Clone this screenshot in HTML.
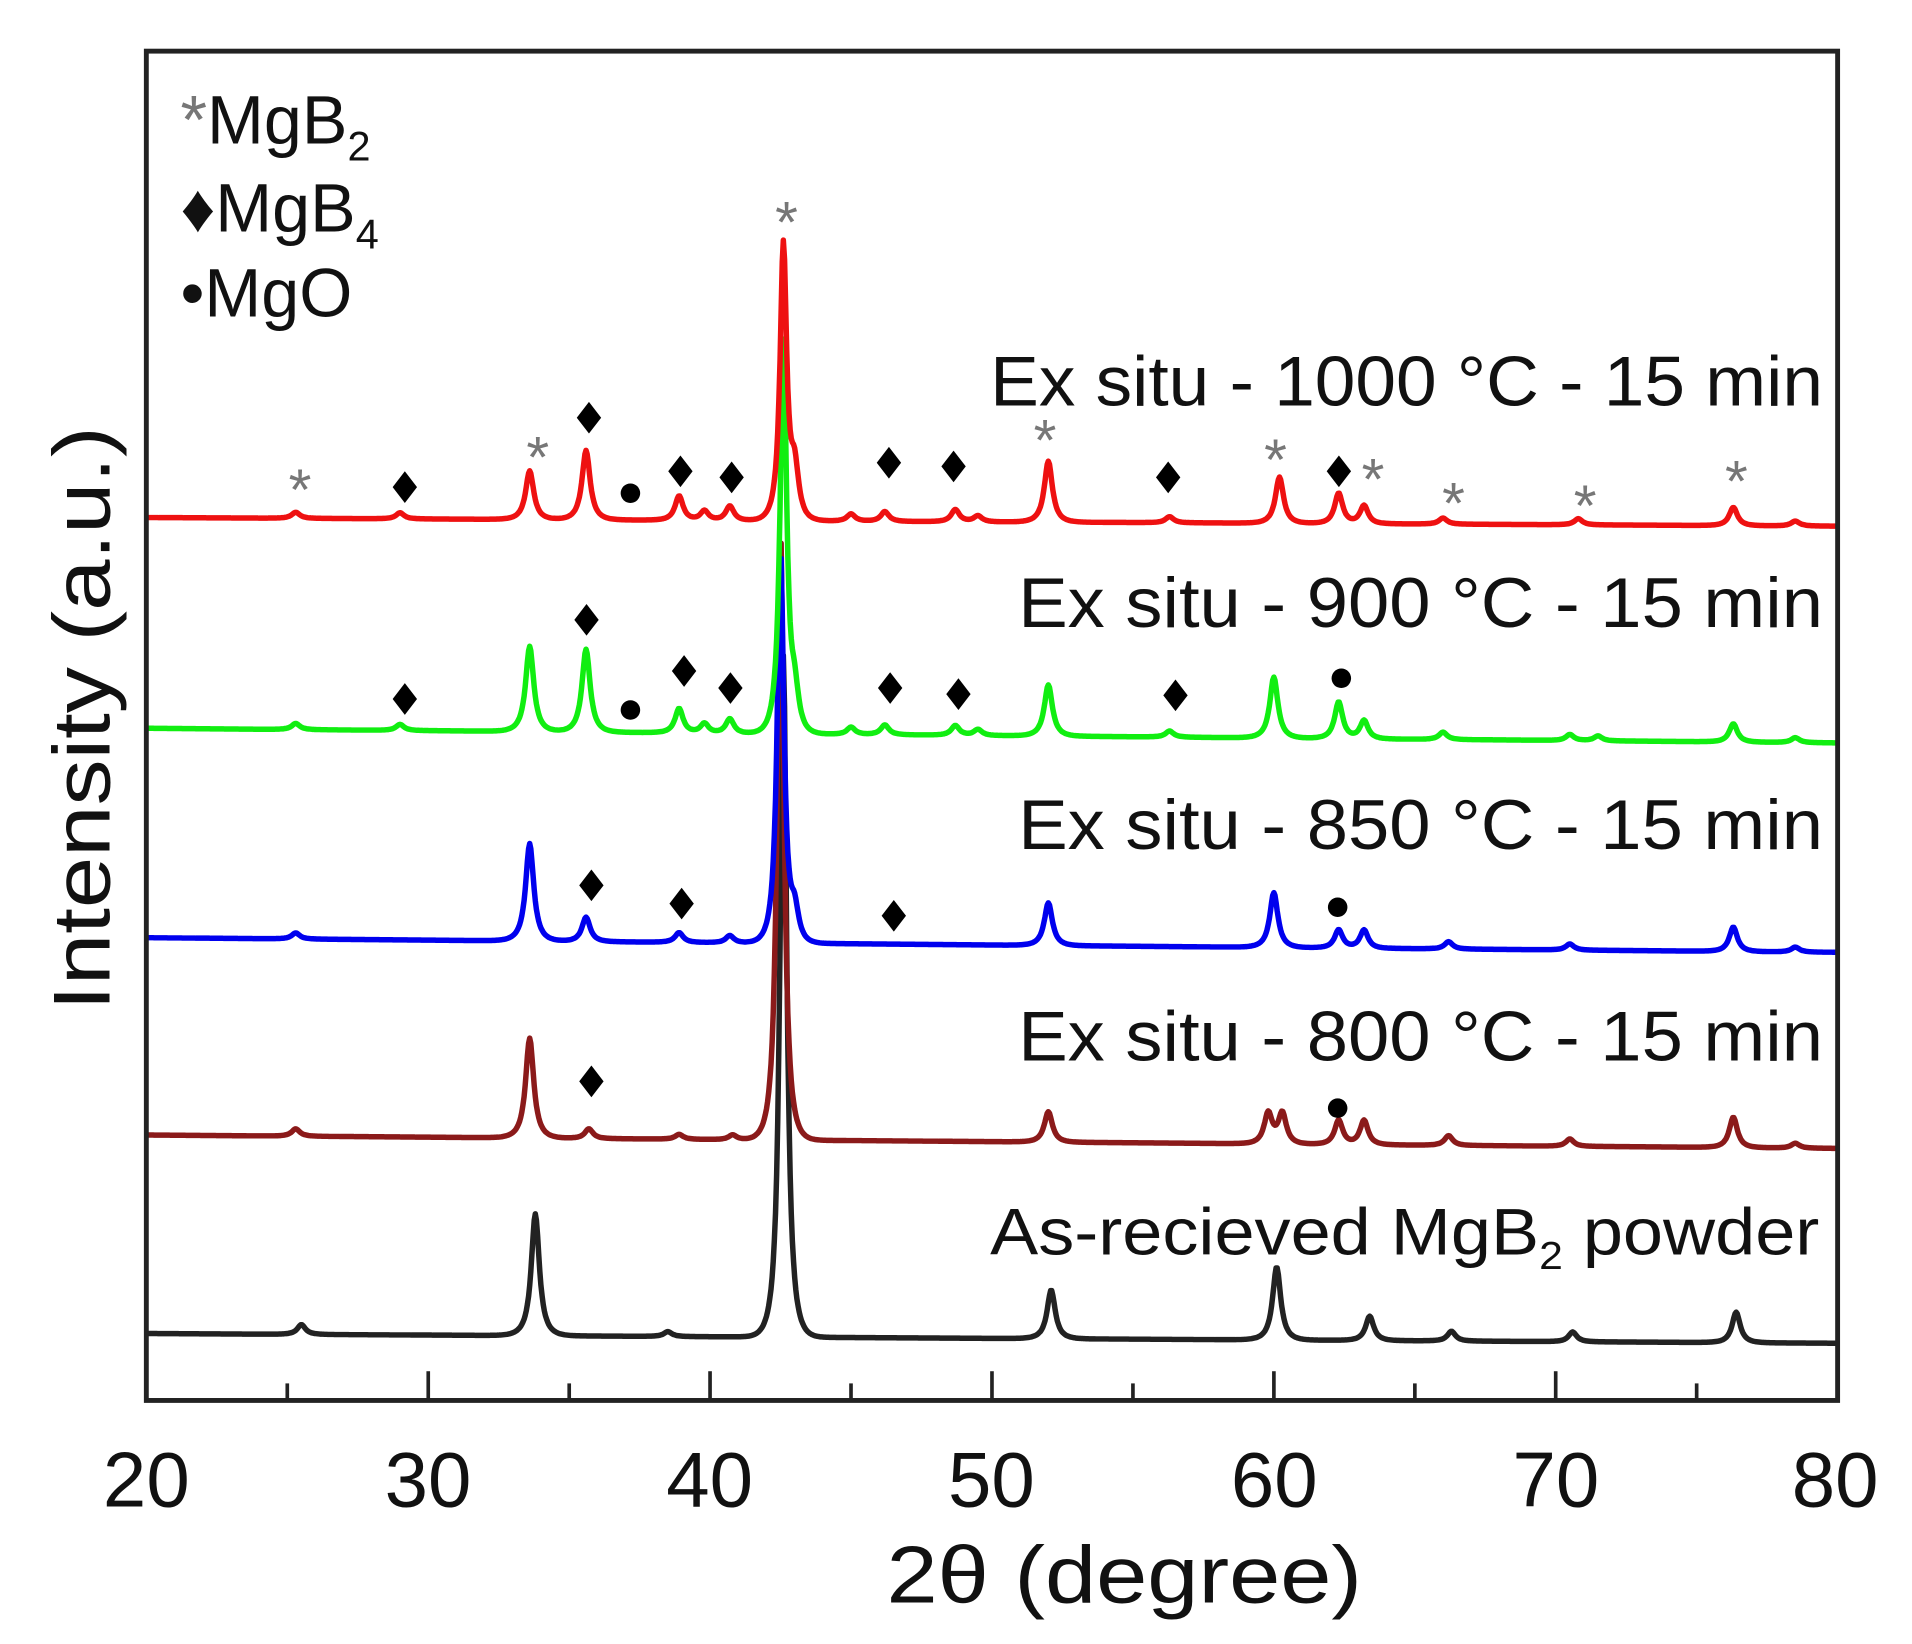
<!DOCTYPE html>
<html><head><meta charset="utf-8"><style>
html,body{margin:0;padding:0;background:#fff;}
svg{display:block;}
text{font-family:"Liberation Sans",sans-serif;}
</style></head><body>
<svg id="s" width="1912" height="1644" viewBox="0 0 1568 1350" preserveAspectRatio="none" xmlns="http://www.w3.org/2000/svg">
<rect width="1568" height="1350" fill="#fff"/>
<g id="curves"></g>
<rect x="120" y="42" width="1387" height="1108" fill="none" stroke="#222" stroke-width="4"/>
<g stroke="#222" stroke-width="3">
<line x1="235.6" y1="1150" x2="235.6" y2="1136"/><line x1="351.2" y1="1150" x2="351.2" y2="1126"/>
<line x1="466.8" y1="1150" x2="466.8" y2="1136"/><line x1="582.3" y1="1150" x2="582.3" y2="1126"/>
<line x1="697.9" y1="1150" x2="697.9" y2="1136"/><line x1="813.5" y1="1150" x2="813.5" y2="1126"/>
<line x1="929.1" y1="1150" x2="929.1" y2="1136"/><line x1="1044.7" y1="1150" x2="1044.7" y2="1126"/>
<line x1="1160.3" y1="1150" x2="1160.3" y2="1136"/><line x1="1275.8" y1="1150" x2="1275.8" y2="1126"/>
<line x1="1391.4" y1="1150" x2="1391.4" y2="1136"/>
</g>
<g font-size="64" fill="#111" text-anchor="middle">
<text x="120" y="1237">20</text><text x="351" y="1237">30</text><text x="582" y="1237">40</text>
<text x="813" y="1237">50</text><text x="1045" y="1237">60</text><text x="1276" y="1237">70</text><text x="1505" y="1237">80</text>
<text x="922" y="1316" font-size="66" textLength="390" lengthAdjust="spacingAndGlyphs">2θ (degree)</text>
<text transform="translate(90,590) rotate(-90)" font-size="66" textLength="480" lengthAdjust="spacingAndGlyphs">Intensity (a.u.)</text>
</g>
<g font-size="58" fill="#111">
<text x="812" y="333" textLength="683" lengthAdjust="spacingAndGlyphs">Ex situ - 1000 °C - 15 min</text>
<text x="835" y="515" textLength="660" lengthAdjust="spacingAndGlyphs">Ex situ - 900 °C - 15 min</text>
<text x="835" y="697" textLength="660" lengthAdjust="spacingAndGlyphs">Ex situ - 850 °C - 15 min</text>
<text x="835" y="871" textLength="660" lengthAdjust="spacingAndGlyphs">Ex situ - 800 °C - 15 min</text>
<text x="812" y="1030" font-size="54" textLength="680" lengthAdjust="spacingAndGlyphs">As-recieved MgB<tspan font-size="32" dy="12">2</tspan><tspan dy="-12"> powder</tspan></text>
</g>
<g font-size="56" fill="#111">
<text x="148" y="118"><tspan fill="#777">*</tspan>MgB<tspan font-size="34" dy="14">2</tspan></text>
<text x="148" y="190">♦MgB<tspan font-size="34" dy="14">4</tspan></text>
<text x="148" y="260">•MgO</text>
</g>
<g id="marks"></g>
</svg>
<script>
var X=function(d){return 120+(d-20)*1387/60;};
var series=[
 {c:"#222",b0:1095,b1:1103,p:[[25.5,8],[33.8,100],[42.6,560],[52.1,40],[60.1,60],[63.4,20],[66.3,8],[70.6,8],[76.4,25],[38.5,4]]},
 {c:"#8b1a1a",b0:932,b1:943,p:[[25.3,6],[33.6,82],[35.7,8],[42.5,500],[52,25],[59.8,25],[60.3,25],[62.3,20],[63.2,20],[66.2,8],[70.5,6],[76.3,25],[78.5,4],[38.9,4],[40.8,4]]},
 {c:"#0000ee",b0:770,b1:782,p:[[25.3,5],[33.6,80],[35.6,20],[38.9,8],[40.7,6],[42.5,320],[43.0,25],[52,35],[60,45],[62.3,15],[63.2,15],[66.2,6],[70.5,5],[76.3,20],[78.5,4]]},
 {c:"#11ee11",b0:598,b1:610,p:[[25.3,5],[29,5],[33.6,70],[35.6,68],[38.9,20],[39.8,8],[40.7,12],[42.6,320],[43.0,30],[45,6],[46.2,8],[48.7,8],[49.5,5],[52,42],[56.3,5],[60,50],[62.3,30],[63.2,15],[66,6],[70.5,5],[71.5,4],[76.3,15],[78.5,4]]},
 {c:"#ee1111",b0:425,b1:432,p:[[25.3,5],[29,5],[33.6,40],[35.6,57],[38.9,20],[39.8,8],[40.7,12],[42.6,225],[43.0,40],[45,6],[46.2,8],[48.7,10],[49.5,5],[52,50],[56.3,5],[60.2,38],[62.3,25],[63.2,15],[66,5],[70.8,5],[76.3,15],[78.5,4]]}
];
var g=document.getElementById("curves"),h="";
series.forEach(function(s){
 var d="";
 for(var t=20;t<=80.001;t+=0.04){
  var y=s.b0+(s.b1-s.b0)*(t-20)/60;
  s.p.forEach(function(pk){var w=(pk[1]>200?0.18:0.22);var u=(t-pk[0])/w;y-=pk[1]/(1+u*u*1.6)*Math.exp(-u*u*0.05);});
  d+=(d?"L":"M")+X(t).toFixed(1)+" "+y.toFixed(1);
 }
 h+='<path d="'+d+'" fill="none" stroke="'+s.c+'" stroke-width="4.5" stroke-linejoin="round"/>';
});
g.innerHTML=h;
var ast=[[246,397],[441,370],[645,177],[857,356],[1046,372],[1126,388],[1192,408],[1300,410],[1424,390]];
var dia=[[332,400],[483,343],[558,387],[600,392],[729,380],[782,383],[958,392],[1098,387],[332,574],[481,509],[561,551],[599,565],[730,565],[786,570],[964,571],[485,727],[559,742],[733,752],[485,888]];
var dot=[[517,405],[517,583],[1100,557],[1097,745],[1097,910]];
var m="";
ast.forEach(function(a){m+='<text x="'+a[0]+'" y="'+(a[1]+22)+'" font-size="48" fill="#777" text-anchor="middle" font-family="Liberation Sans">*</text>';});
dia.forEach(function(a){m+='<path d="M'+a[0]+' '+(a[1]-13)+'L'+(a[0]+10)+' '+a[1]+'L'+a[0]+' '+(a[1]+13)+'L'+(a[0]-10)+' '+a[1]+'Z" fill="#000"/>';});
dot.forEach(function(a){m+='<circle cx="'+a[0]+'" cy="'+a[1]+'" r="8" fill="#000"/>';});
document.getElementById("marks").innerHTML=m;
</script>
</body></html>
